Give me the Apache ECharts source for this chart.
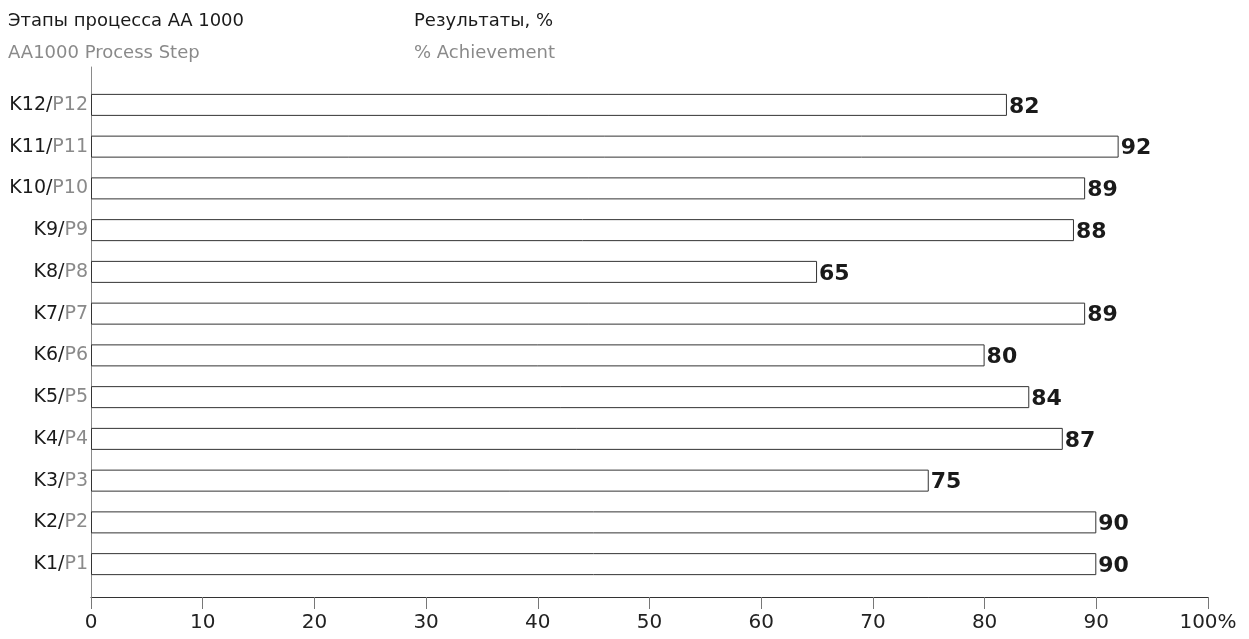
<!DOCTYPE html>
<html>
<head>
<meta charset="utf-8">
<script src="https://cdn.jsdelivr.net/npm/echarts@6/dist/echarts.min.js"></script>
<style>
  html, body { margin: 0; padding: 0; background: #fff; }
  #chart { width: 1249px; height: 639px; }
</style>
</head>
<body>
<div id="chart"></div>
<script>
const codesRu = ['K1', 'K2', 'K3', 'K4', 'K5', 'K6', 'K7', 'K8', 'K9', 'K10', 'K11', 'K12'];
const codesEn = ['P1', 'P2', 'P3', 'P4', 'P5', 'P6', 'P7', 'P8', 'P9', 'P10', 'P11', 'P12'];
const results = [90, 90, 75, 87, 84, 80, 89, 65, 88, 89, 92, 82];
const xTicks = [0, 10, 20, 30, 40, 50, 60, 70, 80, 90, 100];

const font = 'DejaVu Sans';
const chart = echarts.init(document.getElementById('chart'));

const categories = codesRu.map(function (k, i) {
    return k + '|' + codesEn[i];
});

const option = {
    backgroundColor: '#ffffff',
    animation: false,
    title: [
        {
            text: 'Этапы процесса АА 1000',
            subtext: 'AA1000 Process Step',
            left: 3,
            top: 7,
            itemGap: 14,
            textStyle: {color: '#1a1a1a', fontSize: 18, fontWeight: 'normal', fontFamily: font},
            subtextStyle: {color: '#8a8a8a', fontSize: 18, fontFamily: font}
        },
        {
            text: 'Результаты, %',
            subtext: '% Achievement',
            left: 409,
            top: 7,
            itemGap: 14,
            textStyle: {color: '#1a1a1a', fontSize: 18, fontWeight: 'normal', fontFamily: font},
            subtextStyle: {color: '#8a8a8a', fontSize: 18, fontFamily: font}
        }
    ],
    grid: [
        // bars
        {left: 91, right: 41, top: 84, bottom: 54},
        // outer axes
        {left: 91, right: 41, top: 67, bottom: 42}
    ],
    xAxis: [
        {gridIndex: 0, type: 'value', min: 0, max: 100, show: false},
        {
            gridIndex: 1,
            type: 'value',
            min: 0,
            max: 100,
            interval: 10,
            axisLine: {show: true, lineStyle: {color: '#333', width: 1}},
            axisTick: {show: true, inside: false, length: 12, lineStyle: {color: '#777'}},
            splitLine: {show: false},
            axisLabel: {
                margin: 16,
                color: '#222',
                fontSize: 20,
                fontFamily: font,
                formatter: function (v) {
                    return v === xTicks[xTicks.length - 1] ? v + '%' : String(v);
                }
            }
        }
    ],
    yAxis: [
        {
            gridIndex: 0,
            type: 'category',
            data: categories,
            axisLine: {show: false},
            axisTick: {show: false},
            axisLabel: {
                margin: 3,
                formatter: function (v) {
                    const p = v.split('|');
                    return '{k|' + p[0] + '/}{p|' + p[1] + '}';
                },
                rich: {
                    k: {color: '#1a1a1a', fontSize: 19, fontFamily: font},
                    p: {color: '#8a8a8a', fontSize: 19, fontFamily: font}
                }
            }
        },
        {
            gridIndex: 1,
            type: 'value',
            min: 0,
            max: 1,
            axisLine: {show: true, lineStyle: {color: '#8a8a8a', width: 1}},
            axisTick: {show: false},
            axisLabel: {show: false},
            splitLine: {show: false}
        }
    ],
    series: [
        {
            type: 'bar',
            xAxisIndex: 0,
            yAxisIndex: 0,
            data: results,
            barWidth: 22,
            itemStyle: {color: '#ffffff', borderColor: '#333', borderWidth: 1},
            label: {
                show: true,
                position: 'right',
                distance: 2,
                offset: [0, 2],
                color: '#1a1a1a',
                fontSize: 22,
                fontWeight: 'bold',
                fontFamily: font
            }
        }
    ]
};

chart.setOption(option);
window.onresize = chart.resize;
</script>
</body>
</html>
